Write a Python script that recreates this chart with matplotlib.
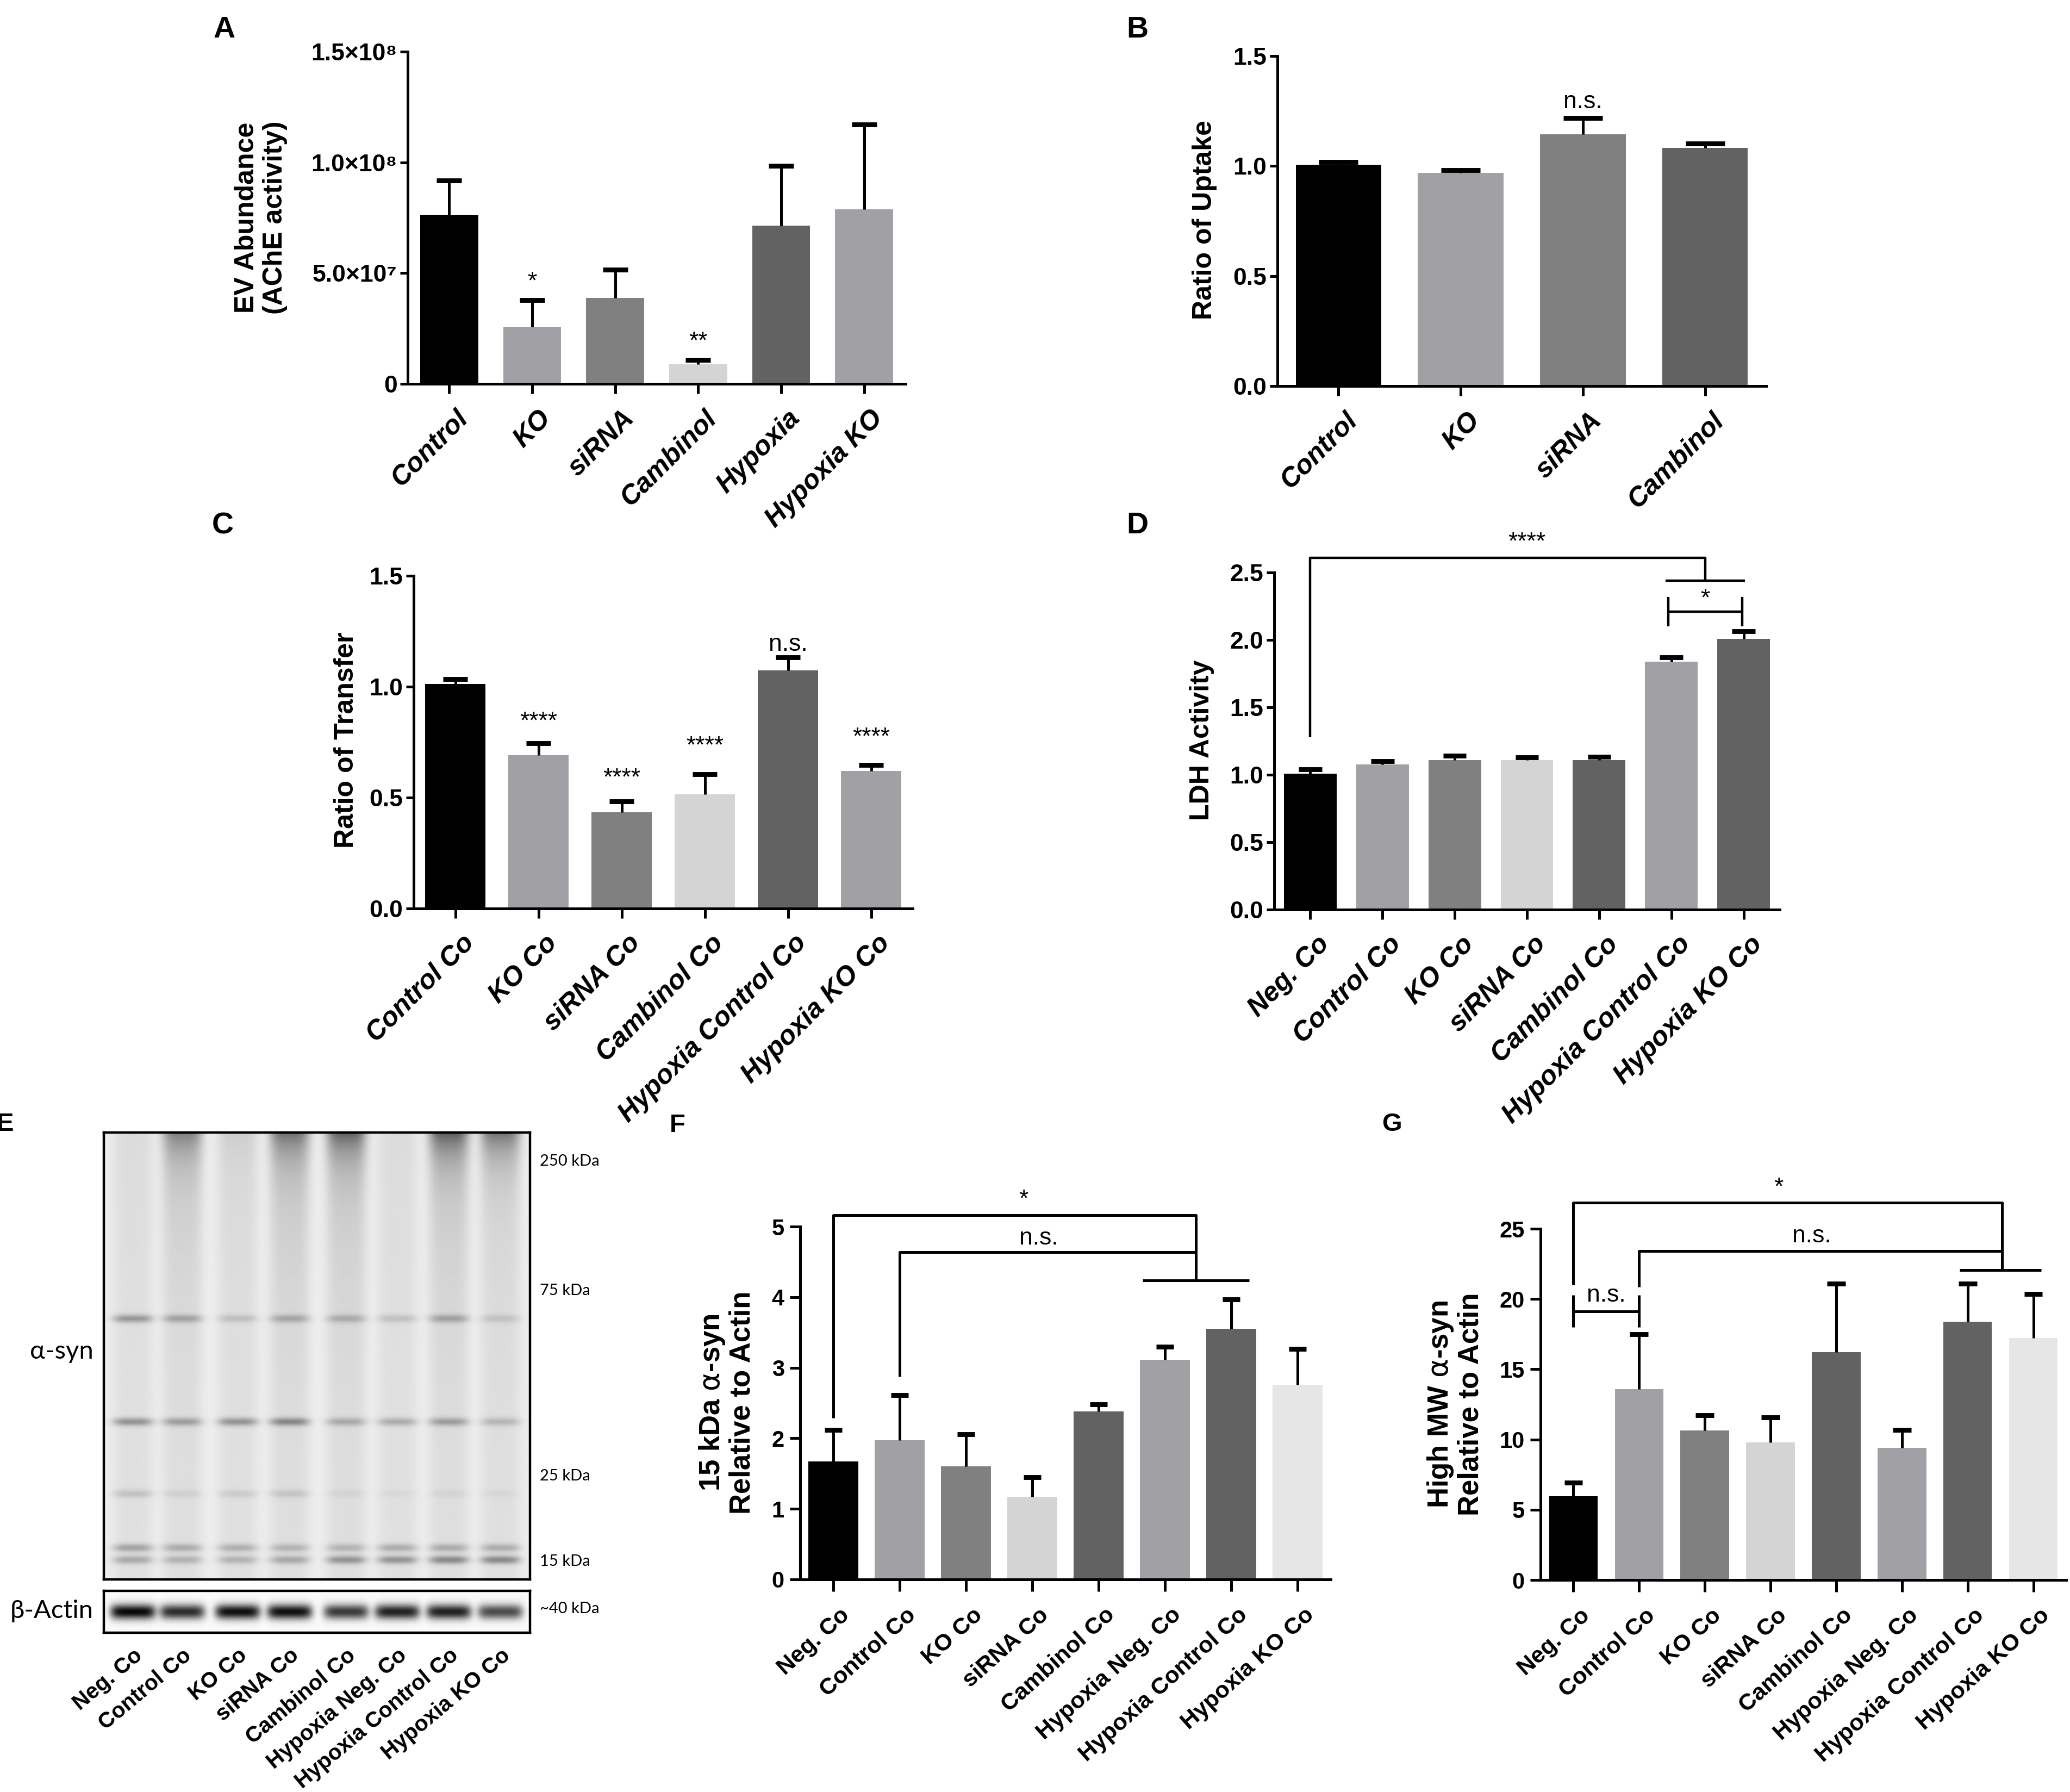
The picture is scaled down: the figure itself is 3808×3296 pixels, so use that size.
import numpy as np
import matplotlib.pyplot as plt
from matplotlib.transforms import ScaledTranslation

plt.rcParams['font.family'] = ['Liberation Sans', 'DejaVu Sans']

NARROW = ['Liberation Sans Narrow', 'Liberation Sans', 'DejaVu Sans']
SANS = ['Liberation Sans', 'DejaVu Sans']
BLOTF = ['Lato', 'DejaVu Sans']

BLK = '#000000'
LG = '#a1a1a5'
MG = '#808080'
PALE = '#d4d4d4'
DG = '#626262'
XPALE = '#e6e6e6'

# ---- panel A: EV abundance
a_groups = ['Control', 'KO', 'siRNA', 'Cambinol', 'Hypoxia', 'Hypoxia KO']
a_mean = [7.63e7, 2.58e7, 3.89e7, 0.88e7, 7.14e7, 7.89e7]
a_err = [1.55e7, 1.21e7, 1.26e7, 0.20e7, 2.71e7, 3.81e7]
a_colors = [BLK, LG, MG, PALE, DG, LG]
a_marks = {1: ('*', 4.6e7), 3: ('**', 1.9e7)}

# ---- panel B: uptake
b_groups = ['Control', 'KO', 'siRNA', 'Cambinol']
b_mean = [1.005, 0.969, 1.145, 1.083]
b_err = [0.013, 0.011, 0.073, 0.020]
b_colors = [BLK, LG, MG, DG]
b_marks = {2: ('n.s.', 1.29)}

# ---- panel C: transfer
c_groups = ['Control Co', 'KO Co', 'siRNA Co', 'Cambinol Co',
            'Hypoxia Control Co', 'Hypoxia KO Co']
c_mean = [1.013, 0.690, 0.433, 0.515, 1.074, 0.620]
c_err = [0.022, 0.055, 0.049, 0.090, 0.059, 0.026]
c_colors = [BLK, LG, MG, PALE, DG, LG]
c_marks = {1: ('****', 0.84), 2: ('****', 0.585), 3: ('****', 0.73),
           4: ('n.s.', 1.19), 5: ('****', 0.77)}

# ---- panel D: LDH
d_groups = ['Neg. Co', 'Control Co', 'KO Co', 'siRNA Co', 'Cambinol Co',
            'Hypoxia Control Co', 'Hypoxia KO Co']
d_mean = [1.008, 1.076, 1.110, 1.110, 1.110, 1.840, 2.010]
d_err = [0.032, 0.024, 0.030, 0.020, 0.025, 0.030, 0.055]
d_colors = [BLK, LG, MG, PALE, DG, LG, DG]

# ---- panels E-G: alpha-syn western blot
e_lanes = ['Neg. Co', 'Control Co', 'KO Co', 'siRNA Co', 'Cambinol Co',
           'Hypoxia Neg. Co', 'Hypoxia Control Co', 'Hypoxia KO Co']
f_mean = [1.675, 1.97, 1.60, 1.17, 2.38, 3.11, 3.55, 2.76]
f_err = [0.445, 0.64, 0.46, 0.28, 0.10, 0.19, 0.42, 0.51]
g_mean = [5.96, 13.6, 10.64, 9.78, 16.2, 9.42, 18.4, 17.24]
g_err = [0.96, 3.9, 1.09, 1.79, 4.9, 1.25, 2.7, 3.11]
fg_colors = [BLK, LG, MG, PALE, DG, LG, DG, XPALE]

# blot band darkness per lane (0 = white, 1 = black)
lane_x = [0.068, 0.184, 0.314, 0.436, 0.569, 0.689, 0.810, 0.931]
band_y = [0.417, 0.648, 0.809, 0.930, 0.957]
band_dark = [
    [0.28, 0.22, 0.12, 0.20, 0.18, 0.12, 0.22, 0.10],
    [0.30, 0.25, 0.30, 0.34, 0.20, 0.20, 0.25, 0.16],
    [0.12, 0.06, 0.08, 0.10, 0.04, 0.03, 0.04, 0.03],
    [0.24, 0.20, 0.19, 0.17, 0.17, 0.20, 0.20, 0.20],
    [0.22, 0.18, 0.18, 0.22, 0.30, 0.30, 0.34, 0.34],
]
hmw_dark = [0.00, 0.30, 0.04, 0.34, 0.40, 0.00, 0.42, 0.38]
smear_dark = [0.02, 0.10, 0.04, 0.12, 0.12, 0.02, 0.12, 0.07]
actin_dark = [0.95, 0.80, 0.92, 0.92, 0.75, 0.85, 0.85, 0.68]
kda_labels = ['250 kDa', '75 kDa', '25 kDa', '15 kDa', '~40 kDa']

FW, FH = 3808, 3296
fig = plt.figure(figsize=(FW / 200, FH / 200), dpi=200)


def box(l, t, r, b):
    return [l / FW, 1 - b / FH, (r - l) / FW, (b - t) / FH]


def ftext(x, y, s, **kw):
    fig.text(x / FW, 1 - y / FH, s, **kw)


def bar_panel(ax, groups, mean, err, colors, width, cap, ylim, yticks, yticklabels,
              prism=True):
    x = np.arange(len(groups))
    ax.bar(x, mean, width, color=colors, zorder=2)
    tops = np.array(mean) + np.array(err)
    ax.vlines(x, mean, tops, colors='k', lw=1.8, zorder=3)
    ax.hlines(tops, x - cap, x + cap, colors='k', lw=3.2, zorder=3)
    ax.set_xlim(-0.5, len(groups) - 0.5)
    ax.set_ylim(*ylim)
    for s in ['top', 'right']:
        ax.spines[s].set_visible(False)
    for s in ['left', 'bottom']:
        ax.spines[s].set_linewidth(1.8)
    ax.set_yticks(yticks)
    ax.set_xticks(x)
    if prism:
        ax.set_yticklabels(yticklabels, fontfamily=NARROW, fontweight='bold', fontsize=16)
        ax.set_xticklabels(groups, rotation=45, ha='right', va='top', rotation_mode='anchor',
                           fontfamily=SANS, fontweight='bold', fontstyle='italic', fontsize=18)
        ax.tick_params(axis='y', length=5, width=1.8, pad=2)
        ax.tick_params(axis='x', length=6.5, width=1.8, pad=8)
        off = ScaledTranslation(4 / 72, 0, fig.dpi_scale_trans)
    else:
        ax.set_yticklabels(yticklabels, fontfamily=SANS, fontweight='bold', fontsize=15)
        ax.set_xticklabels(groups, rotation=42, ha='right', va='top', rotation_mode='anchor',
                           fontfamily=SANS, fontweight='bold', fontsize=15.5)
        ax.tick_params(axis='y', length=7, width=1.8, pad=3.5)
        ax.tick_params(axis='x', length=8, width=1.8, pad=8.3)
        off = ScaledTranslation(4 / 72, 0, fig.dpi_scale_trans)
    for t in ax.get_xticklabels():
        t.set_transform(t.get_transform() + off)


def marks(ax, d, size=16, family=NARROW):
    for i, (s, y) in d.items():
        ax.text(i, y, s, ha='center', va='center', fontsize=size, fontfamily=family)


def bracket(ax, xs, ys, lw=1.6):
    ax.plot(xs, ys, color='k', lw=lw, clip_on=False, solid_capstyle='butt', zorder=4)


# ---- A
axA = fig.add_axes(box(750, 95, 1666, 706))
bar_panel(axA, a_groups, a_mean, a_err, a_colors, 0.70, 0.15, (0, 1.5e8),
          [0, 5e7, 1e8, 1.5e8], ['0', '5.0×10⁷', '1.0×10⁸', '1.5×10⁸'])
marks(axA, a_marks)
ftext(480, 400, 'EV Abundance\n(AChE activity)', rotation=90, ha='center', va='center',
      fontsize=18, fontweight='bold', family=SANS, multialignment='center', linespacing=1.15)
ftext(413, 55, 'A', ha='center', va='center', fontsize=20, fontweight='bold', family=NARROW)

# ---- B
axB = fig.add_axes(box(2350, 103, 3249, 710))
bar_panel(axB, b_groups, b_mean, b_err, b_colors, 0.70, 0.16, (0, 1.5),
          [0, 0.5, 1.0, 1.5], ['0.0', '0.5', '1.0', '1.5'])
marks(axB, b_marks)
ftext(2216, 405, 'Ratio of Uptake', rotation=90, ha='center', va='center',
      fontsize=18, fontweight='bold', family=SANS)
ftext(2092, 55, 'B', ha='center', va='center', fontsize=20, fontweight='bold', family=NARROW)

# ---- C
axC = fig.add_axes(box(761, 1059, 1679, 1671))
bar_panel(axC, c_groups, c_mean, c_err, c_colors, 0.72, 0.15, (0, 1.5),
          [0, 0.5, 1.0, 1.5], ['0.0', '0.5', '1.0', '1.5'])
marks(axC, c_marks)
ftext(637, 1361, 'Ratio of Transfer', rotation=90, ha='center', va='center',
      fontsize=18, fontweight='bold', family=SANS)
ftext(410, 967, 'C', ha='center', va='center', fontsize=20, fontweight='bold', family=NARROW)

# ---- D
axD = fig.add_axes(box(2344, 1053, 3274, 1673))
bar_panel(axD, d_groups, d_mean, d_err, d_colors, 0.73, 0.16, (0, 2.5),
          [0, 0.5, 1.0, 1.5, 2.0, 2.5], ['0.0', '0.5', '1.0', '1.5', '2.0', '2.5'])
bracket(axD, [0, 0, 5.47, 5.47], [1.28, 2.61, 2.61, 2.44])
bracket(axD, [4.92, 6.02], [2.44, 2.44])
bracket(axD, [4.96, 4.96], [2.10, 2.32])
bracket(axD, [5.98, 5.98], [2.10, 2.32])
bracket(axD, [4.96, 5.98], [2.21, 2.21])
axD.text(3.0, 2.64, '****', ha='center', va='bottom', fontsize=16, fontfamily=NARROW, clip_on=False)
axD.text(5.47, 2.22, '*', ha='center', va='bottom', fontsize=16, fontfamily=NARROW, clip_on=False)
ftext(2211, 1361, 'LDH Activity', rotation=90, ha='center', va='center',
      fontsize=18, fontweight='bold', family=SANS)
ftext(2092, 967, 'D', ha='center', va='center', fontsize=20, fontweight='bold', family=NARROW)

# ---- E: blot
axE = fig.add_axes(box(191, 2083, 975, 2905))
H, W = 600, 900
yy = np.linspace(0, 1, H)[:, None]
xx = np.linspace(0, 1, W)[None, :]
img = np.full((H, W), 0.07)
for i, cx in enumerate(lane_x):
    prof = np.exp(-((xx - cx) / 0.047) ** 4)
    img = img + prof * (0.05 + smear_dark[i] * np.exp(-yy / 0.35))
    img = img + prof * hmw_dark[i] * np.exp(-yy / 0.05)
    for by, bd in zip(band_y, band_dark):
        img = img + prof * bd[i] * np.exp(-((yy - by) / 0.009) ** 2)
axE.imshow(np.clip(img, 0, 1), cmap='gray_r', vmin=0, vmax=1, aspect='auto',
           extent=[0, 1, 1, 0], interpolation='bilinear')
axE.set_xticks([])
axE.set_yticks([])
for s in axE.spines.values():
    s.set_linewidth(1.6)

axAct = fig.add_axes(box(191, 2926, 975, 3003))
h2 = 80
yy2 = np.linspace(0, 1, h2)[:, None]
img2 = np.full((h2, W), 0.02)
for i, cx in enumerate(lane_x):
    prof = np.exp(-((xx - cx) / 0.053) ** 6)
    img2 = img2 + prof * actin_dark[i] * np.exp(-((yy2 - 0.5) / 0.18) ** 2)
axAct.imshow(np.clip(img2, 0, 1), cmap='gray_r', vmin=0, vmax=1, aspect='auto',
             extent=[0, 1, 1, 0], interpolation='bilinear')
axAct.set_yticks([])
axAct.set_xlim(0, 1)
axAct.set_xticks(lane_x)
axAct.set_xticklabels(e_lanes, rotation=40, ha='right', va='top', rotation_mode='anchor',
                      fontfamily=SANS, fontweight='bold', fontsize=14.6)
axAct.tick_params(axis='x', length=0, pad=8)
for s in axAct.spines.values():
    s.set_linewidth(1.6)

for lab, y in zip(kda_labels, [2136, 2374, 2715, 2872, 2959]):
    ftext(993, y, lab, ha='left', va='center', fontsize=10.5, family=BLOTF)
ftext(172, 2486, 'α-syn', ha='right', va='center', fontsize=17, family=BLOTF)
ftext(172, 2963, 'β-Actin', ha='right', va='center', fontsize=17, family=BLOTF)
ftext(10, 2068, 'E', ha='center', va='center', fontsize=17, fontweight='bold', family=SANS)

# ---- F
axF = fig.add_axes(box(1472, 2256, 2448, 2905))
bar_panel(axF, e_lanes, f_mean, f_err, fg_colors, 0.75, 0.135, (0, 5),
          [0, 1, 2, 3, 4, 5], ['0', '1', '2', '3', '4', '5'], prism=False)
bracket(axF, [0, 0, 5.47, 5.47], [2.29, 5.16, 5.16, 4.24], lw=1.8)
bracket(axF, [1, 1, 5.47], [2.87, 4.64, 4.64], lw=1.8)
bracket(axF, [4.66, 6.27], [4.24, 4.24], lw=1.8)
axF.text(2.87, 5.22, '*', ha='center', va='bottom', fontsize=16, fontfamily=SANS, clip_on=False)
axF.text(3.1, 4.68, 'n.s.', ha='center', va='bottom', fontsize=16, fontfamily=SANS, clip_on=False)
ftext(1337, 2580, '15 kDa $\\mathrm{\\alpha}$-syn\nRelative to Actin', rotation=90,
      ha='center', va='center', fontsize=19, fontweight='bold', family=SANS,
      multialignment='center', linespacing=1.1)
ftext(1246, 2070, 'F', ha='center', va='center', fontsize=17, fontweight='bold', family=SANS)

# ---- G
axG = fig.add_axes(box(2834, 2260, 3801, 2906))
bar_panel(axG, e_lanes, g_mean, g_err, fg_colors, 0.74, 0.14, (0, 25),
          [0, 5, 10, 15, 20, 25], ['0', '5', '10', '15', '20', '25'], prism=False)
bracket(axG, [0, 0, 6.52, 6.52], [21.0, 26.86, 26.86, 22.05], lw=1.8)
bracket(axG, [1, 1, 6.52], [20.87, 23.43, 23.43], lw=1.8)
bracket(axG, [5.88, 7.12], [22.05, 22.05], lw=1.8)
bracket(axG, [0, 0], [18.0, 20.26], lw=1.8)
bracket(axG, [1, 1], [18.0, 20.26], lw=1.8)
bracket(axG, [0, 1], [19.1, 19.1], lw=1.8)
axG.text(0.5, 19.45, 'n.s.', ha='center', va='bottom', fontsize=16, fontfamily=SANS)
axG.text(3.12, 27.1, '*', ha='center', va='bottom', fontsize=16, fontfamily=SANS, clip_on=False)
axG.text(3.63, 23.7, 'n.s.', ha='center', va='bottom', fontsize=16, fontfamily=SANS, clip_on=False)
ftext(2677, 2583, 'High MW $\\mathrm{\\alpha}$-syn\nRelative to Actin', rotation=90,
      ha='center', va='center', fontsize=19, fontweight='bold', family=SANS,
      multialignment='center', linespacing=1.1)
ftext(2560, 2068, 'G', ha='center', va='center', fontsize=17, fontweight='bold', family=SANS)

fig.savefig('out.png', dpi=200)
